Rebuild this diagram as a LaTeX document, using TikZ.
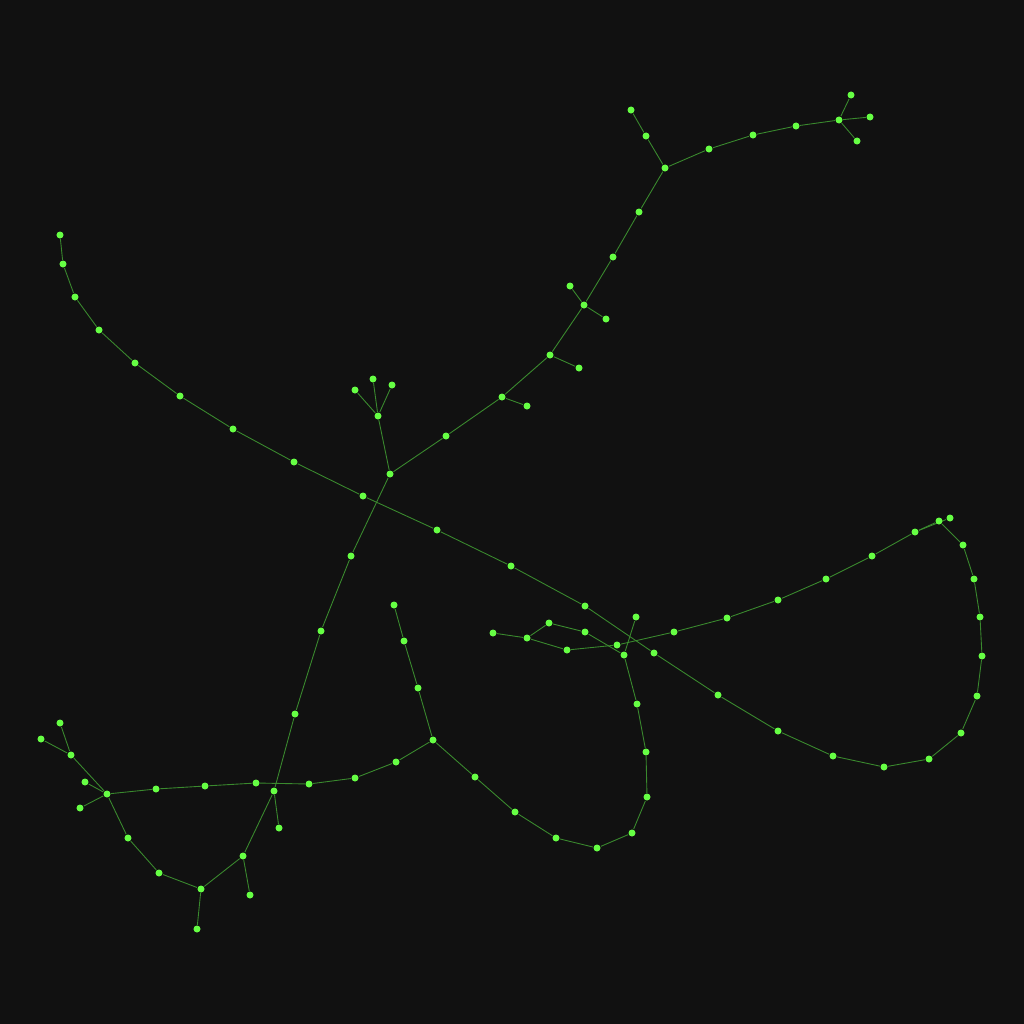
\documentclass[tikz,border=0pt]{standalone}
\usepackage{tikz}
\usetikzlibrary{backgrounds}

\definecolor{bgdark}{HTML}{111111}
\definecolor{dotgreen}{HTML}{66FF44}
\definecolor{linkgreen}{HTML}{3A8A2E}

\begin{document}
\begin{tikzpicture}[x=0.01cm,y=-0.01cm,
    dot/.style={circle,fill=dotgreen,draw=none,inner sep=0pt,minimum size=0.07cm},
    link/.style={draw=linkgreen,line width=0.25pt}]
    \useasboundingbox (0,0) rectangle (1024,1024);

    % zgornja veja
    \node [dot] (t1) at (631,110) {};
    \node [dot] (t2) at (646,136) {};
    \node [dot] (top) at (665,168) {};
    \node [dot] (r1) at (709,149) {};
    \node [dot] (r2) at (753,135) {};
    \node [dot] (r3) at (796,126) {};
    \node [dot] (star) at (839,120) {};
    \node [dot] (s1) at (851,95) {};
    \node [dot] (s2) at (870,117) {};
    \node [dot] (s3) at (857,141) {};

    % deblo proti sredini
    \node [dot] (d1) at (639,212) {};
    \node [dot] (d2) at (613,257) {};
    \node [dot] (d3) at (584,305) {};
    \node [dot] (d3a) at (570,286) {};
    \node [dot] (d3b) at (606,319) {};
    \node [dot] (d4) at (550,355) {};
    \node [dot] (d4a) at (579,368) {};
    \node [dot] (d5) at (502,397) {};
    \node [dot] (d5a) at (527,406) {};
    \node [dot] (d6) at (446,436) {};
    \node [dot] (ctr) at (390,474) {};
    \node [dot] (c1) at (378,416) {};
    \node [dot] (c1a) at (355,390) {};
    \node [dot] (c1b) at (373,379) {};
    \node [dot] (c1c) at (392,385) {};

    % navzdol in levo spodaj
    \node [dot] (v1) at (351,556) {};
    \node [dot] (v2) at (321,631) {};
    \node [dot] (v3) at (295,714) {};
    \node [dot] (v4) at (274,791) {};
    \node [dot] (v4a) at (279,828) {};
    \node [dot] (v5) at (243,856) {};
    \node [dot] (v5a) at (250,895) {};
    \node [dot] (v6) at (201,889) {};
    \node [dot] (v6a) at (197,929) {};
    \node [dot] (v7) at (159,873) {};
    \node [dot] (v8) at (128,838) {};
    \node [dot] (lf) at (107,794) {};
    \node [dot] (lf1) at (71,755) {};
    \node [dot] (lf1a) at (60,723) {};
    \node [dot] (lf1b) at (41,739) {};
    \node [dot] (lf2) at (85,782) {};
    \node [dot] (lf3) at (80,808) {};

    % vodoravna pot
    \node [dot] (h1) at (156,789) {};
    \node [dot] (h2) at (205,786) {};
    \node [dot] (h3) at (256,783) {};
    \node [dot] (h4) at (309,784) {};
    \node [dot] (h5) at (355,778) {};
    \node [dot] (h6) at (396,762) {};
    \node [dot] (mid) at (433,740) {};
    \node [dot] (m1) at (418,688) {};
    \node [dot] (m2) at (404,641) {};
    \node [dot] (m3) at (394,605) {};

    % spodnja zanka
    \node [dot] (u1) at (475,777) {};
    \node [dot] (u2) at (515,812) {};
    \node [dot] (u3) at (556,838) {};
    \node [dot] (u4) at (597,848) {};
    \node [dot] (u5) at (632,833) {};
    \node [dot] (u6) at (647,797) {};
    \node [dot] (u7) at (646,752) {};
    \node [dot] (u8) at (637,704) {};
    \node [dot] (x) at (624,655) {};
    \node [dot] (xa) at (636,617) {};
    \node [dot] (w1) at (585,632) {};
    \node [dot] (w2) at (549,623) {};
    \node [dot] (w3) at (527,638) {};
    \node [dot] (w4) at (493,633) {};
    \node [dot] (w5) at (567,650) {};
    \node [dot] (w6) at (617,645) {};

    % desni lok
    \node [dot] (e1) at (674,632) {};
    \node [dot] (e2) at (727,618) {};
    \node [dot] (e3) at (778,600) {};
    \node [dot] (e4) at (826,579) {};
    \node [dot] (e5) at (872,556) {};
    \node [dot] (e6) at (915,532) {};
    \node [dot] (cn) at (939,521) {};
    \node [dot] (cna) at (950,518) {};
    \node [dot] (k1) at (963,545) {};
    \node [dot] (k2) at (974,579) {};
    \node [dot] (k3) at (980,617) {};
    \node [dot] (k4) at (982,656) {};
    \node [dot] (k5) at (977,696) {};
    \node [dot] (k6) at (961,733) {};
    \node [dot] (k7) at (929,759) {};
    \node [dot] (k8) at (884,767) {};
    \node [dot] (k9) at (833,756) {};
    \node [dot] (k10) at (778,731) {};
    \node [dot] (k11) at (718,695) {};
    \node [dot] (k12) at (654,653) {};
    \node [dot] (k13) at (585,606) {};
    \node [dot] (k14) at (511,566) {};
    \node [dot] (k15) at (437,530) {};
    \node [dot] (k16) at (363,496) {};
    \node [dot] (k17) at (294,462) {};
    \node [dot] (k18) at (233,429) {};
    \node [dot] (k19) at (180,396) {};
    \node [dot] (k20) at (135,363) {};
    \node [dot] (k21) at (99,330) {};
    \node [dot] (k22) at (75,297) {};
    \node [dot] (k23) at (63,264) {};
    \node [dot] (k24) at (60,235) {};

    % povezave
    \begin{scope}[on background layer]
    \fill [bgdark] (0,0) rectangle (1024,1024);
    \draw [link] (t1) -- (t2) -- (top) -- (r1) -- (r2) -- (r3) -- (star);
    \draw [link] (star) -- (s1);
    \draw [link] (star) -- (s2);
    \draw [link] (star) -- (s3);
    \draw [link] (top) -- (d1) -- (d2) -- (d3) -- (d4) -- (d5) -- (d6) -- (ctr);
    \draw [link] (d3) -- (d3a);
    \draw [link] (d3) -- (d3b);
    \draw [link] (d4) -- (d4a);
    \draw [link] (d5) -- (d5a);
    \draw [link] (ctr) -- (c1) -- (c1a);
    \draw [link] (c1) -- (c1b);
    \draw [link] (c1) -- (c1c);
    \draw [link] (ctr) -- (v1) -- (v2) -- (v3) -- (v4) -- (v5) -- (v6) -- (v7) -- (v8) -- (lf);
    \draw [link] (v4) -- (v4a);
    \draw [link] (v5) -- (v5a);
    \draw [link] (v6) -- (v6a);
    \draw [link] (lf) -- (lf1) -- (lf1a);
    \draw [link] (lf1) -- (lf1b);
    \draw [link] (lf) -- (lf2);
    \draw [link] (lf) -- (lf3);
    \draw [link] (lf) -- (h1) -- (h2) -- (h3) -- (h4) -- (h5) -- (h6) -- (mid);
    \draw [link] (mid) -- (m1) -- (m2) -- (m3);
    \draw [link] (mid) -- (u1) -- (u2) -- (u3) -- (u4) -- (u5) -- (u6) -- (u7) -- (u8) -- (x);
    \draw [link] (x) -- (xa);
    \draw [link] (x) -- (w1) -- (w2) -- (w3) -- (w4);
    \draw [link] (w3) -- (w5) -- (w6) -- (e1) -- (e2) -- (e3) -- (e4) -- (e5) -- (e6) -- (cn);
    \draw [link] (e6) -- (cna);
    \draw [link] (cn) -- (k1) -- (k2) -- (k3) -- (k4) -- (k5) -- (k6) -- (k7) -- (k8) -- (k9) -- (k10) -- (k11) -- (k12);
    \draw [link] (k12) -- (k13) -- (k14) -- (k15) -- (k16) -- (k17) -- (k18) -- (k19) -- (k20) -- (k21) -- (k22) -- (k23) -- (k24);
    \end{scope}
\end{tikzpicture}
\end{document}
